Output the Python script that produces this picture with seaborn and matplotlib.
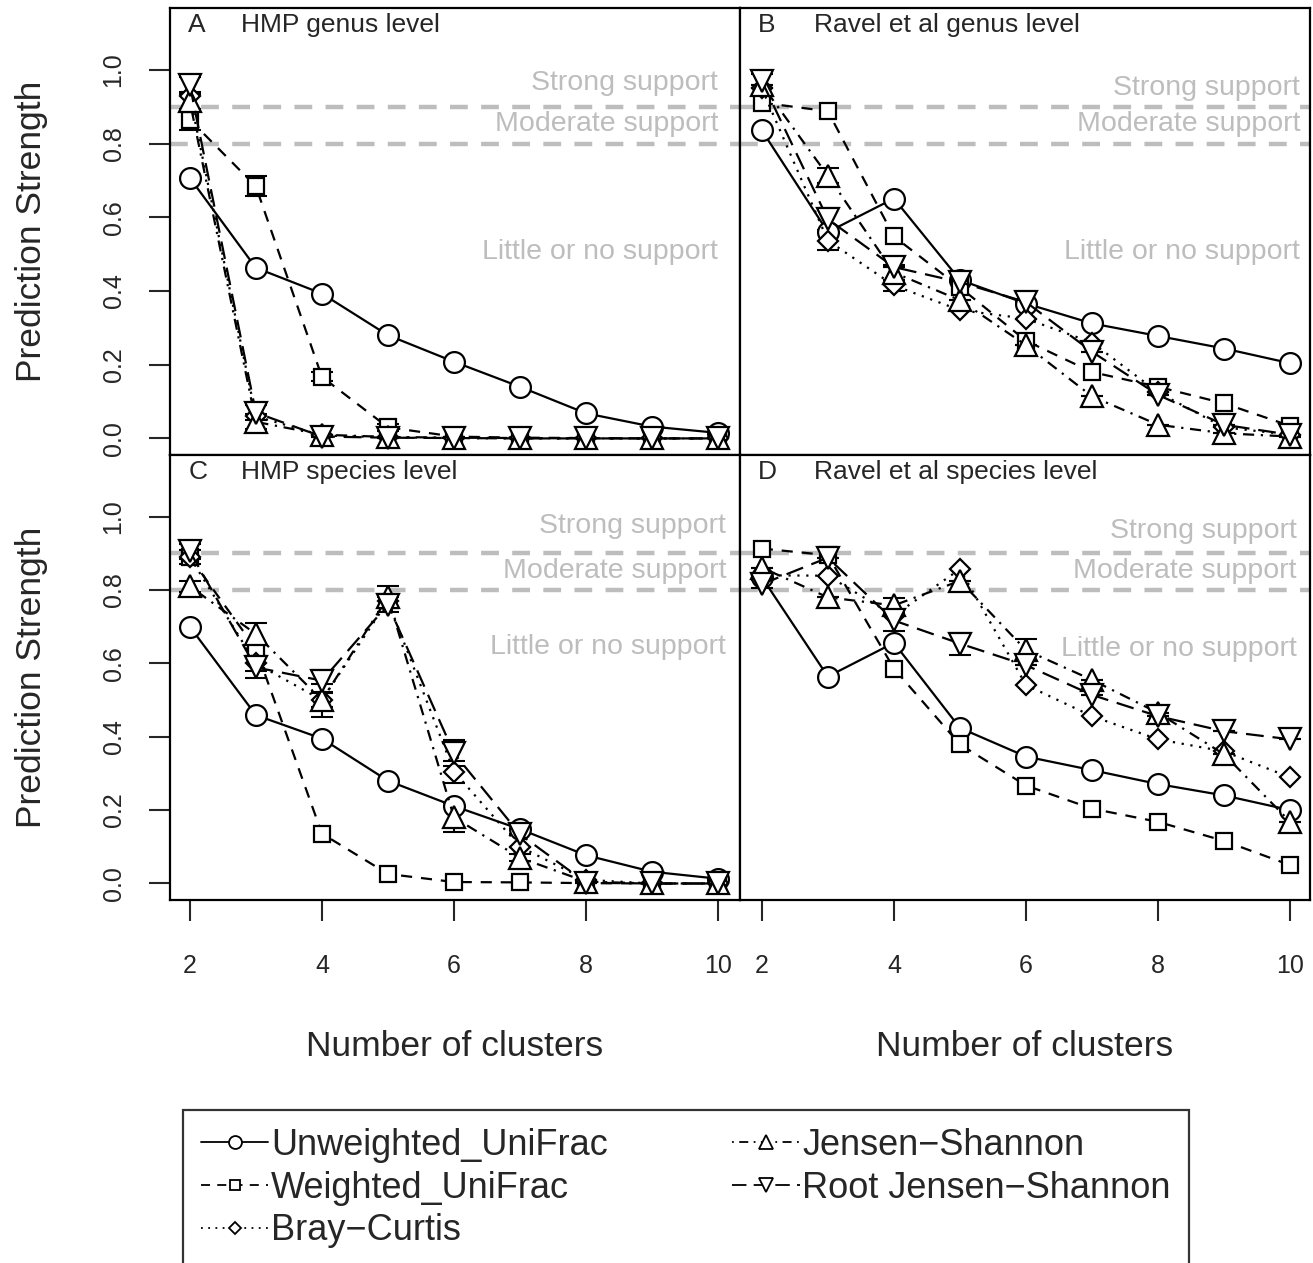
import matplotlib
matplotlib.use("Agg")
import matplotlib.pyplot as plt
from matplotlib.lines import Line2D
import seaborn as sns
import pandas as pd

sns.set_style("white")
plt.rcParams["font.family"] = ["Liberation Sans", "DejaVu Sans"]

# Number of clusters on the x axis
clusters = [2, 3, 4, 5, 6, 7, 8, 9, 10]
methods = ["Unweighted_UniFrac", "Weighted_UniFrac", "Bray−Curtis",
           "Jensen−Shannon", "Root Jensen−Shannon"]

# Prediction strength
hmp_genus = {
    "Unweighted_UniFrac": [0.707, 0.463, 0.393, 0.280, 0.208, 0.140, 0.068, 0.032, 0.015],
    "Weighted_UniFrac": [0.865, 0.684, 0.167, 0.030, 0.005, 0.002, 0.001, 0.0, 0.0],
    "Bray−Curtis": [0.930, 0.060, 0.008, 0.003, 0.001, 0.0, 0.0, 0.0, 0.0],
    "Jensen−Shannon": [0.915, 0.045, 0.010, 0.004, 0.002, 0.001, 0.0, 0.0, 0.0],
    "Root Jensen−Shannon": [0.960, 0.070, 0.005, 0.002, 0.001, 0.0, 0.0, 0.0, 0.0],
}
ravel_genus = {
    "Unweighted_UniFrac": [0.836, 0.560, 0.651, 0.430, 0.366, 0.312, 0.278, 0.244, 0.204],
    "Weighted_UniFrac": [0.911, 0.888, 0.548, 0.410, 0.265, 0.180, 0.140, 0.095, 0.034],
    "Bray−Curtis": [0.950, 0.537, 0.415, 0.348, 0.325, 0.260, 0.125, 0.030, 0.010],
    "Jensen−Shannon": [0.960, 0.713, 0.450, 0.375, 0.253, 0.114, 0.037, 0.014, 0.005],
    "Root Jensen−Shannon": [0.970, 0.595, 0.465, 0.424, 0.370, 0.235, 0.118, 0.037, 0.010],
}
hmp_species = {
    "Unweighted_UniFrac": [0.700, 0.459, 0.395, 0.280, 0.211, 0.148, 0.077, 0.032, 0.013],
    "Weighted_UniFrac": [0.890, 0.640, 0.136, 0.026, 0.004, 0.003, 0.001, 0.0, 0.0],
    "Bray−Curtis": [0.890, 0.600, 0.500, 0.770, 0.305, 0.100, 0.010, 0.0, 0.0],
    "Jensen−Shannon": [0.810, 0.680, 0.500, 0.780, 0.180, 0.070, 0.005, 0.0, 0.0],
    "Root Jensen−Shannon": [0.905, 0.589, 0.553, 0.760, 0.355, 0.134, 0.002, 0.0, 0.0],
}
ravel_species = {
    "Unweighted_UniFrac": [0.835, 0.564, 0.656, 0.424, 0.346, 0.309, 0.271, 0.240, 0.200],
    "Weighted_UniFrac": [0.913, 0.895, 0.586, 0.379, 0.267, 0.204, 0.168, 0.116, 0.050],
    "Bray−Curtis": [0.840, 0.839, 0.730, 0.857, 0.541, 0.456, 0.393, 0.360, 0.289],
    "Jensen−Shannon": [0.861, 0.780, 0.758, 0.825, 0.636, 0.555, 0.465, 0.352, 0.168],
    "Root Jensen−Shannon": [0.816, 0.888, 0.717, 0.654, 0.595, 0.514, 0.456, 0.415, 0.393],
}

# error bar half widths (only where visible)
hmp_genus_err = {
    "Weighted_UniFrac": [0.027, 0.027, 0.012, 0.010, 0, 0, 0, 0, 0],
    "Jensen−Shannon": [0.020, 0.020, 0, 0, 0, 0, 0, 0, 0],
    "Root Jensen−Shannon": [0.020, 0.020, 0, 0, 0, 0, 0, 0, 0],
}
ravel_genus_err = {
    "Bray−Curtis": [0, 0.025, 0.015, 0, 0, 0, 0, 0, 0],
    "Jensen−Shannon": [0, 0.020, 0.020, 0, 0, 0, 0, 0, 0],
    "Root Jensen−Shannon": [0.020, 0.030, 0, 0, 0, 0, 0, 0, 0],
}
hmp_species_err = {
    "Bray−Curtis": [0.020, 0.020, 0.020, 0.020, 0.030, 0, 0, 0, 0],
    "Jensen−Shannon": [0.015, 0.030, 0.045, 0.030, 0.040, 0.010, 0, 0, 0],
    "Root Jensen−Shannon": [0.020, 0.030, 0.030, 0.020, 0.035, 0, 0, 0, 0],
}
ravel_species_err = {
    "Jensen−Shannon": [0, 0, 0.020, 0, 0.030, 0, 0, 0, 0],
    "Root Jensen−Shannon": [0.010, 0, 0.030, 0.030, 0, 0, 0, 0, 0],
}

panel_letters = ["A", "B", "C", "D"]
panel_titles = ["HMP genus level", "Ravel et al genus level",
                "HMP species level", "Ravel et al species level"]

# marker, marker size, line style
styles = {
    "Unweighted_UniFrac": ("o", 15, "-"),
    "Weighted_UniFrac": ("s", 12, (0, (5, 4))),
    "Bray−Curtis": ("D", 10.5, (0, (1, 3))),
    "Jensen−Shannon": ("^", 16, (0, (1, 3, 5, 3))),
    "Root Jensen−Shannon": ("v", 16, (0, (8, 4))),
}

fig = plt.figure(figsize=(13.13, 12.63), dpi=100)
x0, xm, x1 = 170 / 1313, 740 / 1313, 1310 / 1313
y1, ym, y0 = 1 - 8 / 1263, 1 - 455 / 1263, 1 - 900 / 1263
boxes = [(x0, ym, xm - x0, y1 - ym), (xm, ym, x1 - xm, y1 - ym),
         (x0, y0, xm - x0, ym - y0), (xm, y0, x1 - xm, ym - y0)]
xlims = [(1.70, 10.33), (1.67, 10.30), (1.70, 10.33), (1.67, 10.30)]
all_data = [hmp_genus, ravel_genus, hmp_species, ravel_species]
all_err = [hmp_genus_err, ravel_genus_err, hmp_species_err, ravel_species_err]
little_y = [0.505, 0.505, 0.645, 0.64]
strong_y = [0.965, 0.952, 0.975, 0.962]
text_right = [10.0, 10.15, 10.12, 10.1]
grey = "#bdbdbd"

for i in range(4):
    ax = fig.add_axes(boxes[i])
    data = all_data[i]
    errs = all_err[i]
    for name in methods:
        df = pd.DataFrame({"clusters": clusters, "strength": data[name]})
        marker, ms, ls = styles[name]
        if name in errs:
            ax.errorbar(clusters, data[name], yerr=errs[name], fmt="none",
                        ecolor="black", elinewidth=1.5, capsize=8, capthick=1.5,
                        zorder=2)
        sns.lineplot(data=df, x="clusters", y="strength", ax=ax, color="black",
                     marker=marker, markersize=ms, linestyle=ls, linewidth=1.6,
                     markerfacecolor="white", markeredgecolor="black",
                     markeredgewidth=1.6, errorbar=None, legend=False, zorder=3)

    ax.axhline(0.9, color=grey, lw=3.2, ls=(0, (4, 3)), zorder=1)
    ax.axhline(0.8, color=grey, lw=3.2, ls=(0, (4, 3)), zorder=1)
    ax.text(text_right[i], strong_y[i], "Strong support", color=grey, fontsize=20.5,
            ha="right", va="center")
    ax.text(text_right[i], 0.853, "Moderate support", color=grey, fontsize=20.5,
            ha="right", va="center")
    ax.text(text_right[i], little_y[i], "Little or no support", color=grey,
            fontsize=20.5, ha="right", va="center")

    ax.text(0.032, 0.962, panel_letters[i], transform=ax.transAxes, fontsize=19,
            ha="left", va="center")
    ax.text(0.125 if i % 2 == 0 else 0.13, 0.962, panel_titles[i],
            transform=ax.transAxes, fontsize=19, ha="left", va="center")

    ax.set_xlim(*xlims[i])
    ax.set_ylim(-0.045, 1.168)
    for sp in ax.spines.values():
        sp.set_linewidth(1.6)
        sp.set_color("black")

    ax.set_xlabel("")
    ax.set_ylabel("")
    if i >= 2:
        ax.set_xticks([2, 4, 6, 8, 10])
        ax.tick_params(axis="x", length=15, width=1.5, pad=24, labelsize=18,
                       direction="out", bottom=True)
        ax.set_xlabel("Number of clusters", fontsize=25.5)
        ax.xaxis.set_label_coords(0.5, -0.293)
        ax.xaxis.label.set_va("top")
    else:
        ax.set_xticks([])
    if i % 2 == 0:
        ax.set_yticks([0.0, 0.2, 0.4, 0.6, 0.8, 1.0])
        ax.set_yticklabels(["0.0", "0.2", "0.4", "0.6", "0.8", "1.0"],
                           rotation=90, va="center")
        ax.tick_params(axis="y", length=15, width=1.5, pad=17, labelsize=18,
                       direction="out", left=True)
        ax.text(-0.243, 0.5, "Prediction Strength", transform=ax.transAxes,
                rotation=90, fontsize=25.5, ha="center", va="center")
    else:
        ax.set_yticks([])

handles = []
for name in methods:
    marker, ms, ls = styles[name]
    handles.append(Line2D([0], [0], color="black", marker=marker,
                          markersize=ms * 0.62, linestyle=ls, linewidth=1.3,
                          markerfacecolor="white", markeredgecolor="black",
                          markeredgewidth=1.3))

leg = fig.legend(handles, methods, loc="upper left",
                 bbox_to_anchor=(183 / 1313, 1 - 1110 / 1263), ncol=2,
                 fontsize=26, frameon=True, fancybox=False, handlelength=1.86,
                 handletextpad=0.08, columnspacing=3.45, labelspacing=0.21,
                 borderpad=0.5, borderaxespad=0)
leg.get_frame().set_edgecolor("black")
leg.get_frame().set_linewidth(1.6)

fig.savefig("out.png", dpi=100, facecolor="white")
